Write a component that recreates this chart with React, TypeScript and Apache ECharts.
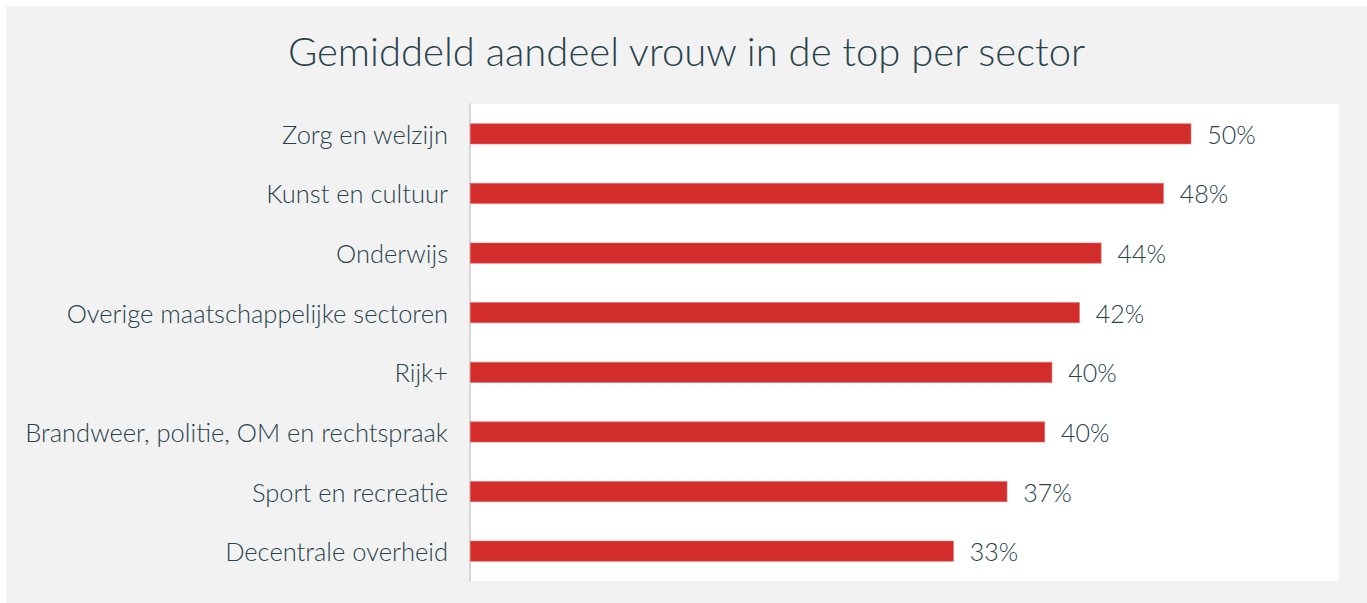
import React, { useEffect, useRef } from "react";
import * as echarts from "echarts";

const title = "Gemiddeld aandeel vrouw in de top per sector";
const categories = [
  "Zorg en welzijn",
  "Kunst en cultuur",
  "Onderwijs",
  "Overige maatschappelijke sectoren",
  "Rijk+",
  "Brandweer, politie, OM en rechtspraak",
  "Sport en recreatie",
  "Decentrale overheid",
];
const values = [49.8, 47.9, 43.6, 42.1, 40.2, 39.7, 37.1, 33.4];

const TEXT = "#28434c";
const FONT = "Lato";

export default function App() {
  const ref = useRef<HTMLDivElement>(null);
  useEffect(() => {
    if (!ref.current) return;
    const chart = echarts.init(ref.current, undefined, { renderer: "svg" });
    chart.setOption({
      animation: false,
      backgroundColor: "#f2f2f2",
      title: {
        text: title,
        left: "center",
        top: 20,
        textStyle: { color: TEXT, fontFamily: FONT, fontSize: 40, fontWeight: 300 },
      },
      grid: {
        left: 464,
        right: 28,
        top: 98,
        bottom: 22,
        show: true,
        backgroundColor: "#ffffff",
        borderWidth: 0,
        containLabel: false,
      },
      xAxis: {
        type: "value",
        min: 0,
        max: 60,
        show: false,
      },
      yAxis: {
        type: "category",
        data: categories,
        inverse: true,
        axisLine: { show: true, lineStyle: { color: "#d6d6d6", width: 2 } },
        axisTick: { show: false },
        axisLabel: {
          color: TEXT,
          fontFamily: FONT,
          fontSize: 25.5,
          fontWeight: 300,
          margin: 22,
          padding: [0, 0, 2, 0],
        },
      },
      series: [
        {
          type: "bar",
          data: values,
          barWidth: "35%",
          itemStyle: { color: "#d32d2b", borderColor: "#e26b69", borderWidth: 0.6 },
          label: {
            show: true,
            position: "right",
            distance: 16,
            color: TEXT,
            fontFamily: FONT,
            fontSize: 25,
            fontWeight: 300,
            formatter: (p: any) => Math.round(p.value) + "%",
          },
        },
      ],
    });
    return () => chart.dispose();
  }, []);
  return (
    <div
      ref={ref}
      style={{ position: "fixed", left: 6, top: 6, width: 1361, height: 597 }}
    />
  );
}
